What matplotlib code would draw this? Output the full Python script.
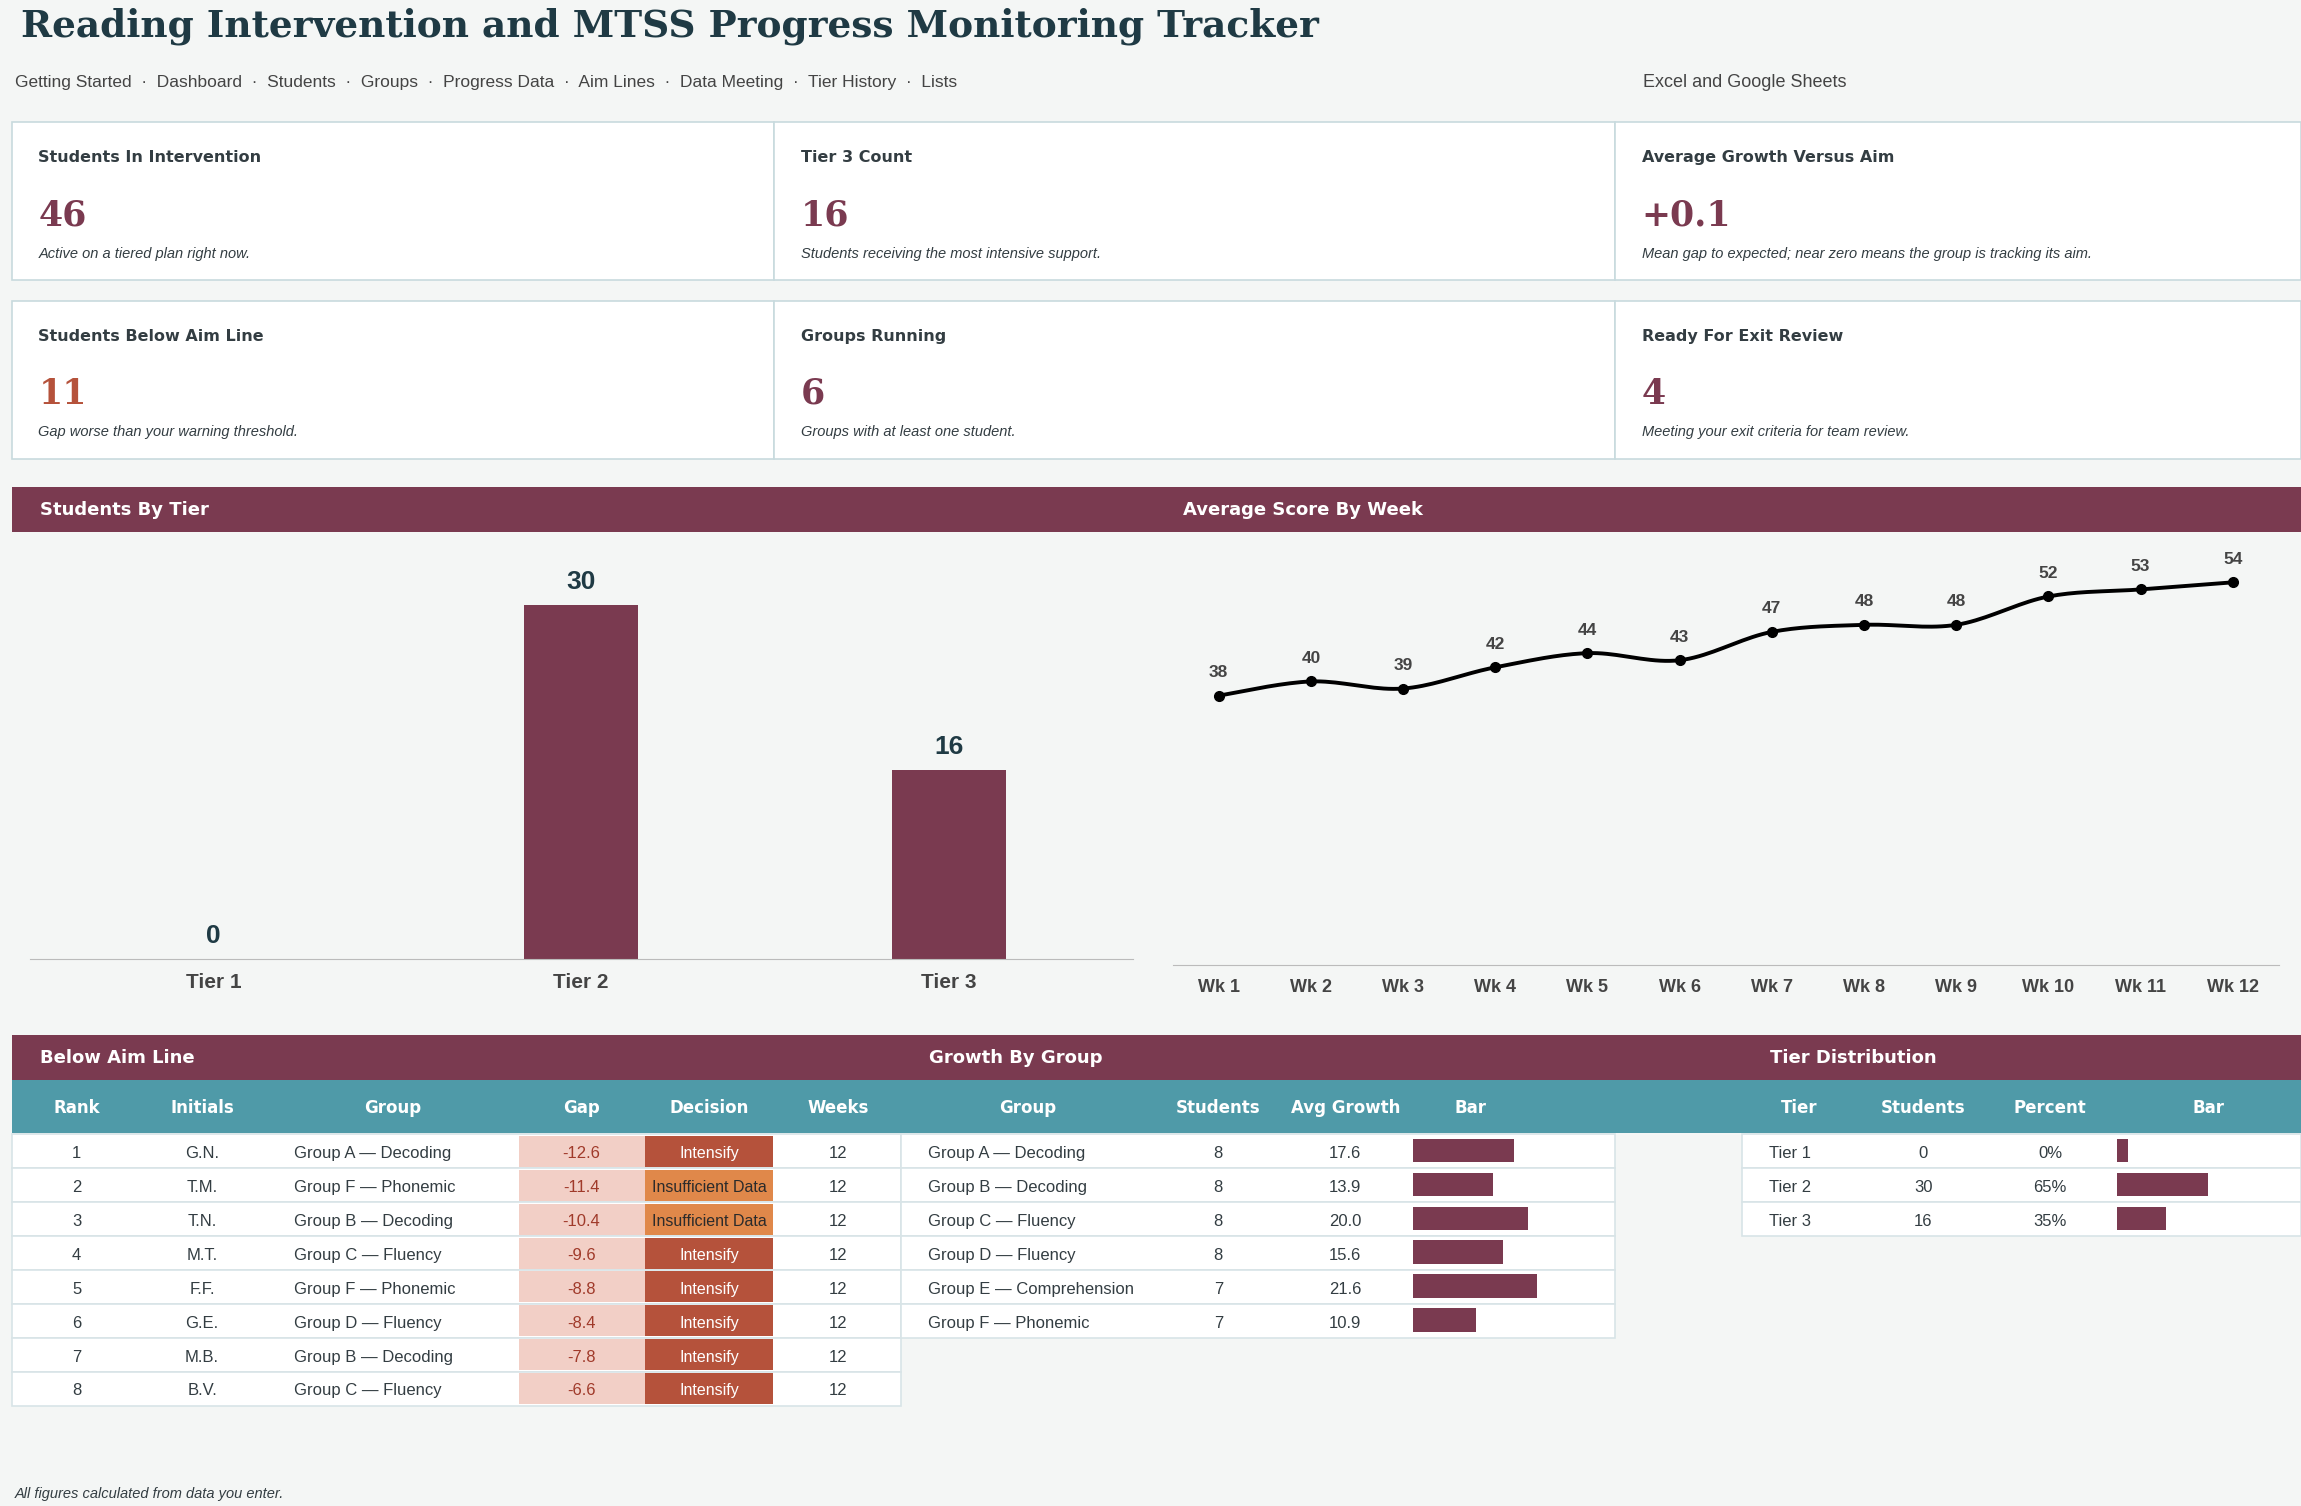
import matplotlib
matplotlib.use("Agg")
import matplotlib.pyplot as plt
from matplotlib.patches import Rectangle
import numpy as np

# ---------------- data ----------------
kpi_labels = ["Students In Intervention", "Tier 3 Count", "Average Growth Versus Aim",
              "Students Below Aim Line", "Groups Running", "Ready For Exit Review"]
kpi_values = ["46", "16", "+0.1", "11", "6", "4"]
kpi_notes = ["Active on a tiered plan right now.", "Students receiving the most intensive support.",
             "Mean gap to expected; near zero means the group is tracking its aim.",
             "Gap worse than your warning threshold.", "Groups with at least one student.",
             "Meeting your exit criteria for team review."]
nav_items = ["Getting Started", "Dashboard", "Students", "Groups", "Progress Data",
             "Aim Lines", "Data Meeting", "Tier History", "Lists"]
tiers = ["Tier 1", "Tier 2", "Tier 3"]
tier_counts = [0, 30, 16]
tier_pct = ["0%", "65%", "35%"]
tier_pct_val = [0, 65, 35]
weeks = ["Wk 1", "Wk 2", "Wk 3", "Wk 4", "Wk 5", "Wk 6", "Wk 7", "Wk 8", "Wk 9", "Wk 10", "Wk 11", "Wk 12"]
avg_scores = [38, 40, 39, 42, 44, 43, 47, 48, 48, 52, 53, 54]
below_rank = [1, 2, 3, 4, 5, 6, 7, 8]
below_init = ["G.N.", "T.M.", "T.N.", "M.T.", "F.F.", "G.E.", "M.B.", "B.V."]
below_group = ["Group A — Decoding", "Group F — Phonemic", "Group B — Decoding", "Group C — Fluency",
               "Group F — Phonemic", "Group D — Fluency", "Group B — Decoding", "Group C — Fluency"]
below_gap = [-12.6, -11.4, -10.4, -9.6, -8.8, -8.4, -7.8, -6.6]
below_decision = ["Intensify", "Insufficient Data", "Insufficient Data", "Intensify",
                  "Intensify", "Intensify", "Intensify", "Intensify"]
below_weeks = [12] * 8
grp_names = ["Group A — Decoding", "Group B — Decoding", "Group C — Fluency", "Group D — Fluency",
             "Group E — Comprehension", "Group F — Phonemic"]
grp_students = [8, 8, 8, 8, 7, 7]
grp_growth = [17.6, 13.9, 20.0, 15.6, 21.6, 10.9]

# ---------------- style ----------------
BG = "#f4f6f5"; WINE = "#7a3a50"; TEAL = "#4f9aa8"; DARK = "#1f3a44"; TXT = "#333d42"
BORDER = "#c8dade"; SEP = "#d8e4e7"
W, H = 1560, 1021

fig = plt.figure(figsize=(23.01, 15.06), dpi=100, facecolor=BG)
ax = fig.add_axes([0, 0, 1, 1])
ax.set_xlim(0, W); ax.set_ylim(H, 0); ax.axis("off")
SANS = "Liberation Sans"; SERIF = "DejaVu Serif"

def t(x, y, s, **kw):
    kw.setdefault("family", SANS)
    kw.setdefault("va", "center")
    ax.text(x, y, s, **kw)

def rect(x0, y0, x1, y1, fc, ec="none", lw=0):
    ax.add_patch(Rectangle((x0, y0), x1 - x0, y1 - y0, facecolor=fc, edgecolor=ec, linewidth=lw))

t(14, 18, "Reading Intervention and MTSS Progress Monitoring Tracker", family=SERIF,
  fontsize=27, weight="bold", color=DARK)
t(10, 56, "  ·  ".join(nav_items), fontsize=12.5, color="#444")
t(1114, 56, "Excel and Google Sheets", fontsize=13, color="#444")

# KPI cards
cols = [(8, 525), (525, 1095), (1095, 1560)]
rows = [(83, 190), (204, 311)]
for i in range(6):
    (x0, x1) = cols[i % 3]; (y0, y1) = rows[i // 3]
    rect(x0, y0, x1, y1, "white", BORDER, 1.2)
    t(x0 + 18, y0 + 24, kpi_labels[i], fontsize=11.5, weight="bold", color=TXT, family="DejaVu Sans")
    col = "#b5523b" if i == 3 else WINE
    t(x0 + 18, y0 + 63, kpi_values[i], family=SERIF, fontsize=25, weight="bold", color=col)
    t(x0 + 18, y0 + 89, kpi_notes[i], fontsize=10.5, style="italic", color=TXT)

# Section headers
rect(8, 330, 1560, 361, WINE)
t(27, 346, "Students By Tier", fontsize=13, weight="bold", color="white", family="DejaVu Sans")
t(802, 346, "Average Score By Week", fontsize=13, weight="bold", color="white", family="DejaVu Sans")
rect(8, 702, 1560, 732, WINE)
t(27, 717, "Below Aim Line", fontsize=13, weight="bold", color="white", family="DejaVu Sans")
t(630, 717, "Growth By Group", fontsize=13, weight="bold", color="white", family="DejaVu Sans")
t(1200, 717, "Tier Distribution", fontsize=13, weight="bold", color="white", family="DejaVu Sans")

def fax(x0, y0, x1, y1):
    return fig.add_axes([x0 / W, 1 - y1 / H, (x1 - x0) / W, (y1 - y0) / H])

# Bar chart
bax = fax(20, 370, 768, 650)
bax.set_facecolor("none")
xs = np.arange(3)
bax.bar(xs, tier_counts, width=0.31, color=WINE)
bax.set_xlim(-0.5, 2.5); bax.set_ylim(0, 35)
for s in ["top", "right", "left"]:
    bax.spines[s].set_visible(False)
bax.spines["bottom"].set_color("#bbb")
bax.set_yticks([])
bax.set_xticks(xs); bax.set_xticklabels(tiers, fontsize=15, weight="bold", color="#444", family=SANS)
bax.tick_params(axis="x", length=0, pad=10)
for x, v in zip(xs, tier_counts):
    bax.text(x, v + 0.9, str(v), ha="center", va="bottom", fontsize=19, weight="bold", color=DARK, family=SANS)

# Line chart
lax = fax(795, 366, 1545, 654)
lax.set_facecolor("none")
xw = np.arange(len(weeks))
y = np.array(avg_scores, float)
# Catmull-Rom smoothing through the data points
px = np.concatenate([[xw[0]], xw, [xw[-1]]]).astype(float)
py = np.concatenate([[y[0]], y, [y[-1]]])
sx, sy = [], []
tt = np.linspace(0, 1, 20)
for k in range(1, len(px) - 2):
    for arr, out in ((px, sx), (py, sy)):
        p0, p1, p2, p3 = arr[k - 1], arr[k], arr[k + 1], arr[k + 2]
        out.extend(0.5 * ((2 * p1) + (-p0 + p2) * tt + (2 * p0 - 5 * p1 + 4 * p2 - p3) * tt ** 2
                          + (-p0 + 3 * p1 - 3 * p2 + p3) * tt ** 3))
lax.plot(sx, sy, color="black", lw=2.8)
lax.plot(xw, y, "o", color="black", ms=7)
for x, v in zip(xw, y):
    lax.text(x, v + 2.2, f"{v:.0f}", ha="center", va="bottom", fontsize=12.5, weight="bold", color="#444", family=SANS)
lax.set_xlim(-0.5, 11.5); lax.set_ylim(0, 60)
for s in ["top", "right", "left"]:
    lax.spines[s].set_visible(False)
lax.spines["bottom"].set_color("#bbb")
lax.set_yticks([])
lax.set_xticks(xw); lax.set_xticklabels(weeks, fontsize=13, weight="bold", color="#444", family=SANS)
lax.tick_params(axis="x", length=0, pad=10)

# Table header row
rect(8, 732, 1560, 768, TEAL)
hy = 751
for x, s in [(52, "Rank"), (137, "Initials"), (266, "Group"), (394, "Gap"), (481, "Decision"),
             (568, "Weeks"), (697, "Group"), (826, "Students"), (912, "Avg Growth"), (997, "Bar"),
             (1220, "Tier"), (1304, "Students"), (1390, "Percent"), (1497, "Bar")]:
    t(x, hy, s, ha="center", fontsize=12, weight="bold", color="white", family="DejaVu Sans")

RH = 23; R0 = 769
def rowbox(x0, x1, i):
    rect(x0, R0 + i * RH, x1, R0 + (i + 1) * RH, "white", SEP, 1.2)

fs = 12
for i in range(len(below_rank)):
    rowbox(8, 611, i)
    yc = R0 + i * RH + RH / 2 + 1.5
    rect(352, R0 + i * RH + 1, 437, R0 + (i + 1) * RH - 1, "#f2cfc6")
    ins = below_decision[i] == "Insufficient Data"
    rect(437, R0 + i * RH + 1, 524, R0 + (i + 1) * RH - 1, "#e0884a" if ins else "#b5523b")
    t(52, yc, str(below_rank[i]), ha="center", fontsize=fs, color=TXT)
    t(137, yc, below_init[i], ha="center", fontsize=fs, color=TXT)
    t(199, yc, below_group[i], ha="left", fontsize=fs, color=TXT)
    t(394, yc, f"{below_gap[i]:.1f}", ha="center", fontsize=fs, color="#a03a2a")
    t(481, yc, below_decision[i], ha="center", fontsize=fs - 0.5, color="#2b2b2b" if ins else "white")
    t(568, yc, str(below_weeks[i]), ha="center", fontsize=fs, color=TXT)

for i in range(len(grp_names)):
    rowbox(611, 1095, i)
    yc = R0 + i * RH + RH / 2 + 1.5
    t(629, yc, grp_names[i], ha="left", fontsize=fs, color=TXT)
    t(826, yc, str(grp_students[i]), ha="center", fontsize=fs, color=TXT)
    t(912, yc, f"{grp_growth[i]:.1f}", ha="center", fontsize=fs, color=TXT)
    rect(958, R0 + i * RH + 3, 958 + grp_growth[i] * 3.9, R0 + (i + 1) * RH - 4, WINE)

for i in range(len(tiers)):
    rowbox(1181, 1560, i)
    yc = R0 + i * RH + RH / 2 + 1.5
    t(1199, yc, tiers[i], ha="left", fontsize=fs, color=TXT)
    t(1304, yc, str(tier_counts[i]), ha="center", fontsize=fs, color=TXT)
    t(1390, yc, tier_pct[i], ha="center", fontsize=fs, color=TXT)
    rect(1435, R0 + i * RH + 3, 1435 + max(tier_pct_val[i] * 0.95, 8), R0 + (i + 1) * RH - 4, WINE)

t(10, 1013, "All figures calculated from data you enter.", fontsize=10.5, style="italic", color=TXT)

fig.savefig("out.png", dpi=100, facecolor=BG)
